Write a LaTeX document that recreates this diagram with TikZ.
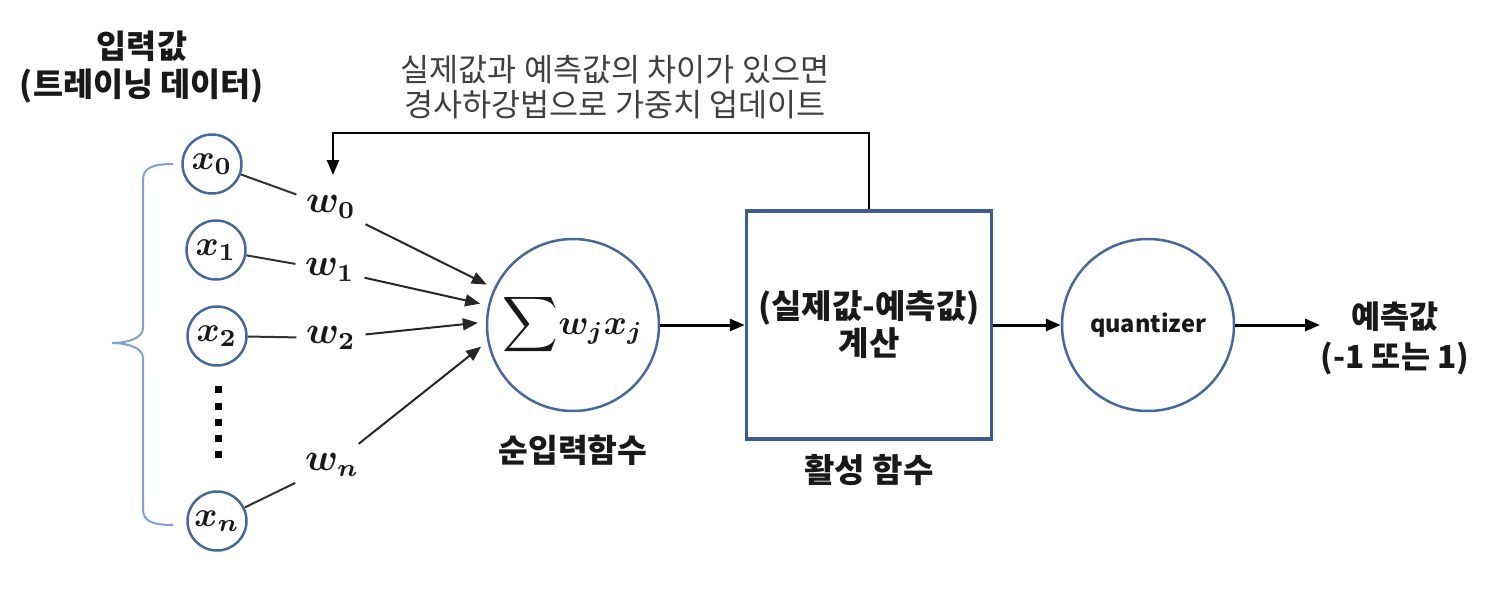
\documentclass[tikz,border=0pt]{standalone}
\usepackage{amsmath,amssymb}
\usepackage{fontspec}
\usepackage{bm}
\setmainfont{Noto Sans CJK KR}
\usetikzlibrary{arrows.meta,positioning}
\definecolor{NodeBlue}{RGB}{72,104,154}
\definecolor{BoxBlue}{RGB}{62,92,140}
\definecolor{BraceBlue}{RGB}{125,160,208}
\definecolor{NoteGray}{RGB}{64,64,64}
\definecolor{LineGray}{RGB}{50,50,50}

\begin{document}
\begin{tikzpicture}[x=0.1mm, y=-0.1mm,
  every node/.style={font=\fontsize{9.2}{11}\selectfont\bfseries, text=black!90},
  incirc/.style={draw=NodeBlue, line width=0.25mm, circle, minimum size=5.9mm,
                 inner sep=0pt, font=\fontsize{10}{12}\selectfont},
  bigcirc/.style={draw=NodeBlue, line width=0.25mm, circle, minimum size=17.2mm, inner sep=0pt},
  wlbl/.style={inner sep=0.9mm, font=\fontsize{10.5}{12}\selectfont},
  wline/.style={LineGray, line width=0.2mm},
  warr/.style={-{Triangle[length=1.5mm,width=1.2mm]}, black!85, line width=0.2mm, shorten >=0.8mm},
  arr/.style={-{Triangle[length=1.5mm,width=1.2mm]}, line width=0.3mm, black}]
\useasboundingbox (0,0) rectangle (1508,594);

% inputs
\node[incirc] (x0) at (212,164) {$\bm{x_0}$};
\node[incirc] (x1) at (216,250) {$\bm{x_1}$};
\node[incirc] (x2) at (217,336) {$\bm{x_2}$};
\node[incirc] (xn) at (217,521) {$\bm{x_n}$};
\foreach \y in {389,406,422,438,454}
  \fill (218,\y) ++(-3.5,-3.5) rectangle ++(7,7);

% brace round the inputs
\draw[BraceBlue, line width=0.2mm] (173,164) .. controls (152,164) and (143,168) .. (143,180)
  -- (143,328) .. controls (143,338) and (128,343) .. (112,343)
  .. controls (128,343) and (143,348) .. (143,358)
  -- (143,509) .. controls (143,521) and (152,525) .. (173,525);

\node[align=center, font=\fontsize{9.3}{11}\selectfont\bfseries] (title) at (142,67)
  {입력값\\(트레이닝 데이터)};

% weights
\node[wlbl] (w0) at (331,207) {$\bm{w_0}$};
\node[wlbl] (w1) at (330,270) {$\bm{w_1}$};
\node[wlbl] (w2) at (331,338) {$\bm{w_2}$};
\node[wlbl] (wn) at (332,465) {$\bm{w_n}$};

\node[bigcirc, font=\fontsize{10}{12}\selectfont] (sum) at (573,325)
  {{\fontsize{11}{13}\selectfont$\displaystyle\sum$}$\bm{w_j x_j}$};
\node[below=2.2mm of sum, inner sep=0pt] (sumlbl) {순입력함수};

\draw[wline] (x0) -- (w0);
\draw[wline] (x1) -- (w1);
\draw[wline] (x2) -- (w2);
\draw[wline] (xn) -- (wn);
\draw[warr] (w0) -- (sum.155);
\draw[warr] (w1) -- (sum.167);
\draw[warr] (w2) -- (sum.178);
\draw[warr] (wn) -- (sum.191);

% activation
\node[draw=BoxBlue, line width=0.35mm, minimum width=24.5mm, minimum height=22.8mm,
      align=center, font=\fontsize{9.4}{10.5}\selectfont\bfseries] (box) at (869,325)
  {(실제값-예측값)\\계산};
\node[below=1.3mm of box, inner sep=0pt, font=\fontsize{9.4}{11}\selectfont\bfseries] (actlbl) {활성 함수};

\node[bigcirc, font=\fontsize{6.7}{8}\selectfont\bfseries] (quant) at (1148,325)
  {quantizer};
\node[align=center, inner sep=0pt, anchor=west, font=\fontsize{9}{11.4}\selectfont\bfseries]
  (out) at (1320,338) {예측값\\(-1 또는 1)};

\draw[arr] (sum) -- (box);
\draw[arr] (box) -- (quant);
\draw[arr] (quant) -- (quant -| out.west);

% feedback
\coordinate (fbtop) at (333,133);
\coordinate (fbend) at (333,175);
\draw[arr, line width=0.25mm] (box.north) |- (fbtop) -- (fbend);
\node[align=center, font=\fontsize{9}{10}\selectfont, text=NoteGray] (note) at (615,87)
  {실제값과 예측값의 차이가 있으면\\경사하강법으로 가중치 업데이트};
\end{tikzpicture}
\end{document}
